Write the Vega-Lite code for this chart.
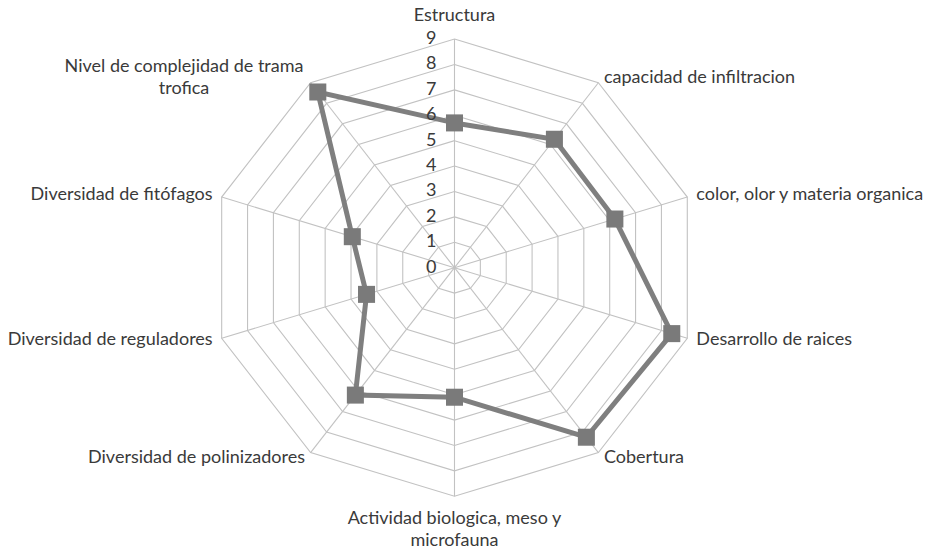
{
  "$schema": "https://vega.github.io/schema/vega-lite/v6.json",
  "width": 934,
  "height": 551,
  "autosize": {"type": "none"},
  "padding": 0,
  "background": "white",
  "config": {
    "view": {"stroke": null},
    "text": {"font": "Lato", "fontSize": 18, "color": "#3a3a3a"}
  },
  "datasets": {
    "scores": [
      {"criterio": "Estructura", "etiqueta": "Estructura", "i": 0, "valor": 5.7},
      {"criterio": "capacidad de infiltracion", "etiqueta": "capacidad de infiltracion", "i": 1, "valor": 6.25},
      {"criterio": "color, olor y materia organica", "etiqueta": "color, olor y materia organica", "i": 2, "valor": 6.2},
      {"criterio": "Desarrollo de raices", "etiqueta": "Desarrollo de raices", "i": 3, "valor": 8.4},
      {"criterio": "Cobertura", "etiqueta": "Cobertura", "i": 4, "valor": 8.25},
      {"criterio": "Actividad biologica, meso y microfauna", "etiqueta": "Actividad biologica, meso y\nmicrofauna", "i": 5, "valor": 5.1},
      {"criterio": "Diversidad de polinizadores", "etiqueta": "Diversidad de polinizadores", "i": 6, "valor": 6.2},
      {"criterio": "Diversidad de reguladores", "etiqueta": "Diversidad de reguladores", "i": 7, "valor": 3.4},
      {"criterio": "Diversidad de fitófagos", "etiqueta": "Diversidad de fitófagos", "i": 8, "valor": 3.95},
      {"criterio": "Nivel de complejidad de trama trofica", "etiqueta": "Nivel de complejidad de trama\ntrofica", "i": 9, "valor": 8.55}
    ],
    "levels": [
      {"level": 0, "i": [0, 1, 2, 3, 4, 5, 6, 7, 8, 9]},
      {"level": 1, "i": [0, 1, 2, 3, 4, 5, 6, 7, 8, 9]},
      {"level": 2, "i": [0, 1, 2, 3, 4, 5, 6, 7, 8, 9]},
      {"level": 3, "i": [0, 1, 2, 3, 4, 5, 6, 7, 8, 9]},
      {"level": 4, "i": [0, 1, 2, 3, 4, 5, 6, 7, 8, 9]},
      {"level": 5, "i": [0, 1, 2, 3, 4, 5, 6, 7, 8, 9]},
      {"level": 6, "i": [0, 1, 2, 3, 4, 5, 6, 7, 8, 9]},
      {"level": 7, "i": [0, 1, 2, 3, 4, 5, 6, 7, 8, 9]},
      {"level": 8, "i": [0, 1, 2, 3, 4, 5, 6, 7, 8, 9]},
      {"level": 9, "i": [0, 1, 2, 3, 4, 5, 6, 7, 8, 9]}
    ]
  },
  "layer": [
    {
      "data": {"name": "levels"},
      "transform": [
        {"filter": "datum.level > 0"},
        {"flatten": ["i"]},
        {"calculate": "datum.i * PI / 5", "as": "a"},
        {"calculate": "datum.level * sin(datum.a)", "as": "x"},
        {"calculate": "datum.level * cos(datum.a)", "as": "y"}
      ],
      "mark": {"type": "line", "interpolate": "linear-closed", "color": "#c2c2c2", "strokeWidth": 1.1},
      "encoding": {
        "x": {"field": "x", "type": "quantitative", "scale": {"domain": [-16.71, 17.63], "nice": false, "zero": false}, "axis": null},
        "y": {"field": "y", "type": "quantitative", "scale": {"domain": [-11.154, 10.539], "nice": false, "zero": false}, "axis": null},
        "detail": {"field": "level", "type": "nominal"},
        "order": {"field": "i", "type": "quantitative"}
      }
    },
    {
      "data": {"name": "scores"},
      "transform": [
        {"calculate": "datum.i * PI / 5", "as": "a"},
        {"calculate": "0", "as": "cx"},
        {"calculate": "9 * sin(datum.a)", "as": "ex"},
        {"calculate": "9 * cos(datum.a)", "as": "ey"}
      ],
      "mark": {"type": "rule", "color": "#c2c2c2", "strokeWidth": 1.1},
      "encoding": {
        "x": {"field": "cx", "type": "quantitative", "scale": {"domain": [-16.71, 17.63], "nice": false, "zero": false}, "axis": null},
        "y": {"field": "cx", "type": "quantitative", "scale": {"domain": [-11.154, 10.539], "nice": false, "zero": false}, "axis": null},
        "x2": {"field": "ex"},
        "y2": {"field": "ey"}
      }
    },
    {
      "data": {"name": "scores"},
      "transform": [
        {"calculate": "datum.i * PI / 5", "as": "a"},
        {"calculate": "datum.valor * sin(datum.a)", "as": "x"},
        {"calculate": "datum.valor * cos(datum.a)", "as": "y"}
      ],
      "mark": {"type": "line", "interpolate": "linear-closed", "color": "#7f7f7f", "strokeWidth": 5},
      "encoding": {
        "x": {"field": "x", "type": "quantitative", "scale": {"domain": [-16.71, 17.63], "nice": false, "zero": false}, "axis": null},
        "y": {"field": "y", "type": "quantitative", "scale": {"domain": [-11.154, 10.539], "nice": false, "zero": false}, "axis": null},
        "order": {"field": "i", "type": "quantitative"}
      }
    },
    {
      "data": {"name": "scores"},
      "transform": [
        {"calculate": "datum.i * PI / 5", "as": "a"},
        {"calculate": "datum.valor * sin(datum.a)", "as": "x"},
        {"calculate": "datum.valor * cos(datum.a)", "as": "y"}
      ],
      "mark": {"type": "point", "shape": "square", "filled": true, "size": 290, "color": "#7a7a7a", "opacity": 1},
      "encoding": {
        "x": {"field": "x", "type": "quantitative", "scale": {"domain": [-16.71, 17.63], "nice": false, "zero": false}, "axis": null},
        "y": {"field": "y", "type": "quantitative", "scale": {"domain": [-11.154, 10.539], "nice": false, "zero": false}, "axis": null},
        "tooltip": [{"field": "criterio", "type": "nominal"}, {"field": "valor", "type": "quantitative"}]
      }
    },
    {
      "data": {"name": "levels"},
      "transform": [
        {"calculate": "0", "as": "cx"}
      ],
      "mark": {"type": "text", "align": "right", "baseline": "middle", "dx": -18},
      "encoding": {
        "x": {"field": "cx", "type": "quantitative", "scale": {"domain": [-16.71, 17.63], "nice": false, "zero": false}, "axis": null},
        "y": {"field": "level", "type": "quantitative", "scale": {"domain": [-11.154, 10.539], "nice": false, "zero": false}, "axis": null},
        "text": {"field": "level", "type": "quantitative"}
      }
    },
    {
      "data": {"name": "scores"},
      "transform": [
        {"filter": "datum.i >= 1 && datum.i <= 4"},
        {"calculate": "datum.i * PI / 5", "as": "a"},
        {"calculate": "9.35 * sin(datum.a)", "as": "lx"},
        {"calculate": "9.25 * cos(datum.a)", "as": "ly"}
      ],
      "mark": {"type": "text", "align": "left", "baseline": "middle"},
      "encoding": {
        "x": {"field": "lx", "type": "quantitative", "scale": {"domain": [-16.71, 17.63], "nice": false, "zero": false}, "axis": null},
        "y": {"field": "ly", "type": "quantitative", "scale": {"domain": [-11.154, 10.539], "nice": false, "zero": false}, "axis": null},
        "text": {"field": "etiqueta", "type": "nominal"}
      }
    },
    {
      "data": {"name": "scores"},
      "transform": [
        {"filter": "datum.i >= 6 && datum.i <= 8"},
        {"calculate": "datum.i * PI / 5", "as": "a"},
        {"calculate": "9.35 * sin(datum.a)", "as": "lx"},
        {"calculate": "9.25 * cos(datum.a)", "as": "ly"}
      ],
      "mark": {"type": "text", "align": "right", "baseline": "middle"},
      "encoding": {
        "x": {"field": "lx", "type": "quantitative", "scale": {"domain": [-16.71, 17.63], "nice": false, "zero": false}, "axis": null},
        "y": {"field": "ly", "type": "quantitative", "scale": {"domain": [-11.154, 10.539], "nice": false, "zero": false}, "axis": null},
        "text": {"field": "etiqueta", "type": "nominal"}
      }
    },
    {
      "data": {"name": "scores"},
      "transform": [
        {"filter": "datum.i == 0"},
        {"calculate": "0", "as": "lx"},
        {"calculate": "9.55", "as": "ly"}
      ],
      "mark": {"type": "text", "align": "center", "baseline": "bottom"},
      "encoding": {
        "x": {"field": "lx", "type": "quantitative", "scale": {"domain": [-16.71, 17.63], "nice": false, "zero": false}, "axis": null},
        "y": {"field": "ly", "type": "quantitative", "scale": {"domain": [-11.154, 10.539], "nice": false, "zero": false}, "axis": null},
        "text": {"field": "etiqueta", "type": "nominal"}
      }
    },
    {
      "data": {"name": "scores"},
      "transform": [
        {"filter": "datum.i == 5"},
        {"calculate": "0", "as": "lx"},
        {"calculate": "-9.55", "as": "ly"}
      ],
      "mark": {"type": "text", "align": "center", "baseline": "top", "lineBreak": "\n", "lineHeight": 22},
      "encoding": {
        "x": {"field": "lx", "type": "quantitative", "scale": {"domain": [-16.71, 17.63], "nice": false, "zero": false}, "axis": null},
        "y": {"field": "ly", "type": "quantitative", "scale": {"domain": [-11.154, 10.539], "nice": false, "zero": false}, "axis": null},
        "text": {"field": "etiqueta", "type": "nominal"}
      }
    },
    {
      "data": {"name": "scores"},
      "transform": [
        {"filter": "datum.i == 9"},
        {"calculate": "datum.i * PI / 5", "as": "a"},
        {"calculate": "9.35 * sin(datum.a)", "as": "lx"},
        {"calculate": "9.25 * cos(datum.a)", "as": "ly"}
      ],
      "mark": {"type": "text", "align": "center", "baseline": "middle", "lineBreak": "\n", "lineHeight": 22, "dx": -121, "dy": -11},
      "encoding": {
        "x": {"field": "lx", "type": "quantitative", "scale": {"domain": [-16.71, 17.63], "nice": false, "zero": false}, "axis": null},
        "y": {"field": "ly", "type": "quantitative", "scale": {"domain": [-11.154, 10.539], "nice": false, "zero": false}, "axis": null},
        "text": {"field": "etiqueta", "type": "nominal"}
      }
    }
  ]
}
